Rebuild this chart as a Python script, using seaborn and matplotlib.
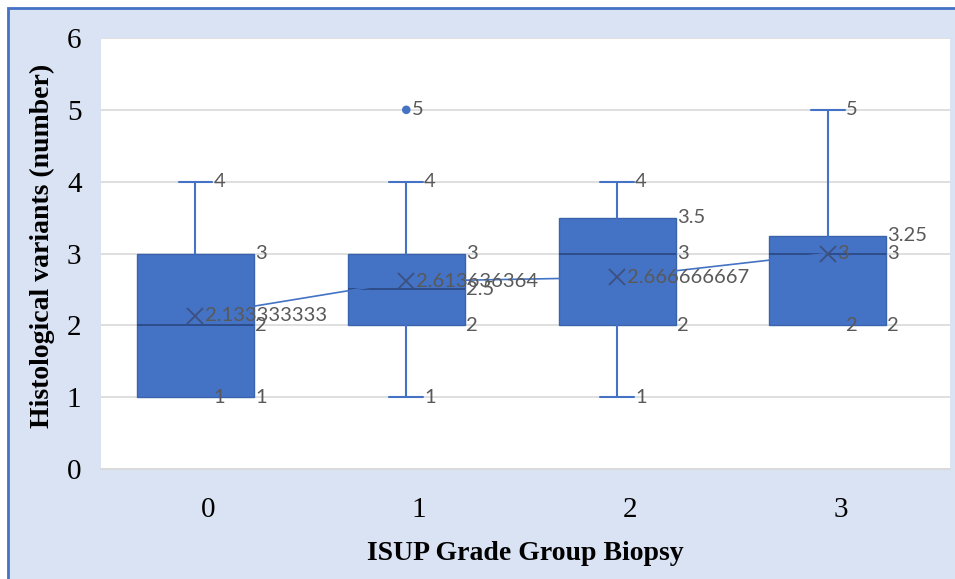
import matplotlib
matplotlib.use("Agg")
import matplotlib.pyplot as plt
from matplotlib.patches import Rectangle
import seaborn as sns
import numpy as np

# ---- data ----
categories = ["0", "1", "2", "3"]
mins = [1, 1, 1, 2]
q1s = [1, 2, 2, 2]
medians = [2, 2.5, 3, 3]
q3s = [3, 3, 3.5, 3.25]
maxs = [4, 4, 4, 5]
means = [2.133333333, 2.613636364, 2.666666667, 3]
outlier_groups = [1]
outlier_values = [5]

x_title = "ISUP Grade Group Biopsy"
y_title = "Histological variants (number)"

# ---- style ----
sns.set_style("white")
plt.rcParams["font.family"] = ["Liberation Serif", "DejaVu Serif"]

BLUE = "#4472c4"
DARK = "#2f528f"
LABEL = "#595959"
BG = "#dae3f3"

fig = plt.figure(figsize=(9.55, 5.79), dpi=100, facecolor="white")
fig.patches.append(Rectangle((8 / 955, -0.1), 1.2, 1 - 8 / 579 + 0.1,
                             transform=fig.transFigure, facecolor=BG,
                             edgecolor=BLUE, lw=2, zorder=-10))
ax = fig.add_axes([101 / 955, 1 - 469 / 579, (950 - 101) / 955, (469 - 38) / 579])
ax.set_facecolor("white")

positions = np.arange(len(categories))
box_w = 0.555
cap_w = 0.16

stats = []
for i, c in enumerate(categories):
    stats.append(dict(med=medians[i], q1=q1s[i], q3=q3s[i],
                      whislo=mins[i], whishi=maxs[i], fliers=[], label=c))

res = ax.bxp(stats, positions=positions, widths=box_w, capwidths=cap_w,
             patch_artist=True, showfliers=False, manage_ticks=False,
             boxprops=dict(facecolor=BLUE, edgecolor="#3a63ad", lw=1),
             medianprops=dict(color="#2b4a85", lw=1.3),
             whiskerprops=dict(color=BLUE, lw=1.5),
             capprops=dict(color=BLUE, lw=1.5))
for a in res["boxes"] + res["medians"] + res["whiskers"] + res["caps"]:
    a.set_zorder(2)
# hide zero-length whiskers/caps (as Excel does)
for i in range(len(categories)):
    if mins[i] == q1s[i]:
        res["caps"][2 * i].set_visible(False)
        res["whiskers"][2 * i].set_visible(False)
    if maxs[i] == q3s[i]:
        res["caps"][2 * i + 1].set_visible(False)
        res["whiskers"][2 * i + 1].set_visible(False)

# mean line with markers
sns.lineplot(x=positions, y=means, ax=ax, color=BLUE, lw=1.2, marker="x",
             markersize=11, markeredgecolor="#3d5180", markeredgewidth=1.3,
             zorder=4)

# outliers
sns.scatterplot(x=outlier_groups, y=outlier_values, ax=ax, color=BLUE,
                s=38, edgecolor="none", zorder=4)

# data labels
lab_kw = dict(family=["Lato", "DejaVu Sans"], fontsize=14.5, color=LABEL,
              va="center", ha="left", zorder=5)


def fmt(v):
    return f"{v:.10g}"


for i in range(len(categories)):
    p = positions[i]
    right = p + box_w / 2 + 0.005
    ax.text(right, q3s[i], fmt(q3s[i]), **lab_kw)
    ax.text(right, medians[i], fmt(medians[i]), **lab_kw)
    ax.text(right, q1s[i], fmt(q1s[i]), **lab_kw)
    ax.text(p + cap_w / 2 + 0.005, maxs[i], fmt(maxs[i]), **lab_kw)
    ax.text(p + cap_w / 2 + 0.005, mins[i], fmt(mins[i]), **lab_kw)
    ax.text(p + 0.045, means[i], fmt(means[i]), **lab_kw)
for g, v in zip(outlier_groups, outlier_values):
    ax.text(g + 0.025, v, fmt(v), **lab_kw)

# axes
ax.set_xlim(-0.448, 3.579)
ax.set_ylim(0, 6)
ax.set_yticks(range(0, 7))
ax.set_xticks(positions + 0.06)
ax.set_xticklabels(categories)
ax.tick_params(axis="both", length=0, labelsize=21, colors="#000000")
ax.tick_params(axis="x", pad=20)
ax.tick_params(axis="y", pad=14)
ax.yaxis.grid(True, color="#d9d9d9", lw=1.2, zorder=0)
ax.set_axisbelow(True)
for s in ["left", "right", "top"]:
    ax.spines[s].set_visible(False)
ax.spines["bottom"].set_color("#d9d9d9")
ax.spines["bottom"].set_linewidth(1.2)

ax.set_xlabel(x_title, fontsize=20, fontweight="bold", color="black")
ax.set_ylabel(y_title, fontsize=20, fontweight="bold", color="black")
ax.xaxis.set_label_coords(0.5, -0.195)
ax.xaxis.label.set_va("center")
ax.yaxis.set_label_coords(-0.0695, 0.517)
ax.yaxis.label.set_va("center")

fig.savefig("out.png", dpi=100, facecolor=fig.get_facecolor())
